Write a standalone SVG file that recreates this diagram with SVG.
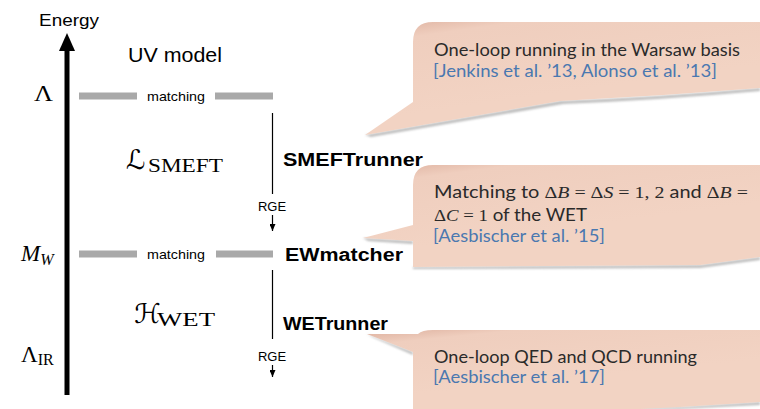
<svg xmlns="http://www.w3.org/2000/svg" width="760" height="409" viewBox="0 0 760 409">
<defs>
<style>
.sans{font-family:"Liberation Sans",Arial,sans-serif;fill:#000}
.bold{font-family:"Liberation Sans",Arial,sans-serif;font-weight:bold;fill:#000}
.math{font-family:"Liberation Serif","DejaVu Serif",serif;fill:#000}
.script{font-family:"DejaVu Serif","DejaVu Sans",serif;fill:#000}
.ct{font-family:Lato,"Open Sans",sans-serif;font-size:17px;fill:#2a2a2a}
.cite{font-family:Lato,"Open Sans",sans-serif;font-size:17px;fill:#4a78b0}
.cm{font-family:"Liberation Serif","DejaVu Serif",serif}
.bar{fill:#a9a9a9}
.wire{stroke:#000;stroke-width:1.2;fill:none}
.shadow{fill:#bdbdbd;filter:url(#blur)}
.bubble{fill:url(#bg)}
</style>
<linearGradient id="bg" x1="0" y1="0" x2="0.35" y2="0.7">
<stop offset="0" stop-color="#ddb09e"/>
<stop offset="0.22" stop-color="#efcebe"/>
<stop offset="1" stop-color="#f2d3c3"/>
</linearGradient>
<filter id="blur" x="-0.1" y="-0.5" width="1.2" height="2"><feGaussianBlur stdDeviation="1"/></filter>
<marker id="ah" viewBox="0 0 6 7" markerWidth="6" markerHeight="7" refX="3" refY="7" orient="0" markerUnits="userSpaceOnUse">
<path d="M0,0 L6,0 L3,7 Z" fill="#000"/>
</marker>
</defs>

<g id="energy-axis">
<line x1="67" y1="48" x2="67" y2="395" stroke="#000" stroke-width="5"/>
<polygon points="67,33 59,51 75,51" fill="#000"/>
<text class="sans" x="39" y="26" font-size="17" textLength="60" lengthAdjust="spacingAndGlyphs">Energy</text>
</g>

<g id="uv-model">
<text class="sans" x="128" y="62" font-size="19.5" textLength="94" lengthAdjust="spacingAndGlyphs">UV model</text>
</g>

<g id="scale-lambda">
<text class="math" x="34" y="101" font-size="24" textLength="19" lengthAdjust="spacingAndGlyphs">Λ</text>
</g>
<g id="scale-mw">
<text class="math" x="21" y="261"><tspan font-size="23" font-style="italic">M</tspan><tspan font-size="16" font-style="italic" dy="4">W</tspan></text>
</g>
<g id="scale-lir">
<text class="math" x="21" y="362"><tspan font-size="23">Λ</tspan><tspan font-size="16" dy="3">IR</tspan></text>
</g>

<g id="matching-uv">
<rect class="bar" x="79" y="92.5" width="58" height="7"/>
<text class="sans" x="147" y="101" font-size="13.5" fill="#333" textLength="58" lengthAdjust="spacingAndGlyphs">matching</text>
<rect class="bar" x="215" y="92.5" width="58" height="7"/>
</g>

<g id="matching-ew">
<rect class="bar" x="79" y="250.5" width="58" height="7"/>
<text class="sans" x="147" y="259" font-size="13.5" fill="#333" textLength="58" lengthAdjust="spacingAndGlyphs">matching</text>
<rect class="bar" x="216" y="250.5" width="57" height="7"/>
</g>

<g id="l-smeft">
<text class="script" x="126" y="169" font-size="27">ℒ</text>
<text class="math" x="148" y="172" font-size="18" textLength="75" lengthAdjust="spacingAndGlyphs">SMEFT</text>
</g>
<g id="h-wet">
<text class="script" x="134" y="323" font-size="27">ℋ</text>
<text class="math" x="157" y="326" font-size="18" textLength="58" lengthAdjust="spacingAndGlyphs">WET</text>
</g>

<g id="smeftrunner">
<text class="bold" x="283" y="166" font-size="17.5" textLength="140" lengthAdjust="spacingAndGlyphs">SMEFTrunner</text>
</g>
<g id="ewmatcher">
<text class="bold" x="285" y="261" font-size="18" textLength="118" lengthAdjust="spacingAndGlyphs">EWmatcher</text>
</g>
<g id="wetrunner">
<text class="bold" x="283" y="330" font-size="17.5" textLength="105" lengthAdjust="spacingAndGlyphs">WETrunner</text>
</g>

<g id="connectors">
<line class="wire" x1="272.5" y1="113" x2="272.5" y2="194"/>
<text class="sans" x="272" y="211" font-size="13" text-anchor="middle" fill="#222">RGE</text>
<line class="wire" x1="272.5" y1="215" x2="272.5" y2="231" marker-end="url(#ah)"/>
<line class="wire" x1="272.5" y1="270" x2="272.5" y2="339"/>
<text class="sans" x="272" y="361" font-size="13" text-anchor="middle" fill="#222">RGE</text>
<line class="wire" x1="272.5" y1="365" x2="272.5" y2="377" marker-end="url(#ah)"/>
</g>

<g id="callout-smeft">
<path class="shadow" d="M560,101 L365,135 L371,137 L563,104 Z M760,88 Q660,97 560,101 L562,104 Q660,100 760,91 Z"/>
<path class="bubble" d="M413,102 L413,42 Q413,22 433,22 L760,22 L760,88 Q660,96 560,101 L365,135 Z"/>
<text class="ct" x="434" y="56" textLength="306" lengthAdjust="spacingAndGlyphs">One-loop running in the Warsaw basis</text>
<text class="cite" x="433" y="77" textLength="284" lengthAdjust="spacingAndGlyphs">[Jenkins et al. ’13, Alonso et al. ’13]</text>
</g>

<g id="callout-ew">
<path class="shadow" d="M363,238 L413,241 L413,244 L368,241 Z M413,267 L700,265 L760,257 L760,260 L700,268 L413,269 Z"/>
<path class="bubble" d="M413,267 L413,241 L363,238 L413,225 L413,185 Q413,165 433,165 L760,165 L760,257 L700,265 Z"/>
<text class="ct" x="434" y="198" textLength="314" lengthAdjust="spacingAndGlyphs">Matching to <tspan class="cm">Δ<tspan font-style="italic">B</tspan> = Δ<tspan font-style="italic">S</tspan> = 1, 2</tspan> and <tspan class="cm">Δ<tspan font-style="italic">B</tspan> =</tspan></text>
<text class="ct" x="434" y="221" textLength="153" lengthAdjust="spacingAndGlyphs"><tspan class="cm">Δ<tspan font-style="italic">C</tspan> = 1</tspan> of the WET</text>
<text class="cite" x="433" y="242" textLength="172" lengthAdjust="spacingAndGlyphs">[Aesbischer et al. ’15]</text>
</g>

<g id="callout-wet">
<path class="shadow" d="M367,334 L413,352 L413,355 L372,337 Z M413,409 L680,407 L760,402 L760,405 L680,409 Z"/>
<path class="bubble" d="M413,409 L413,352 L367,334 L418,334 Q422,330 433,330 L760,330 L760,402 L680,407 L640,409 Z"/>
<text class="ct" x="434" y="363" textLength="263" lengthAdjust="spacingAndGlyphs">One-loop QED and QCD running</text>
<text class="cite" x="433" y="383" textLength="172" lengthAdjust="spacingAndGlyphs">[Aesbischer et al. ’17]</text>
</g>
</svg>
